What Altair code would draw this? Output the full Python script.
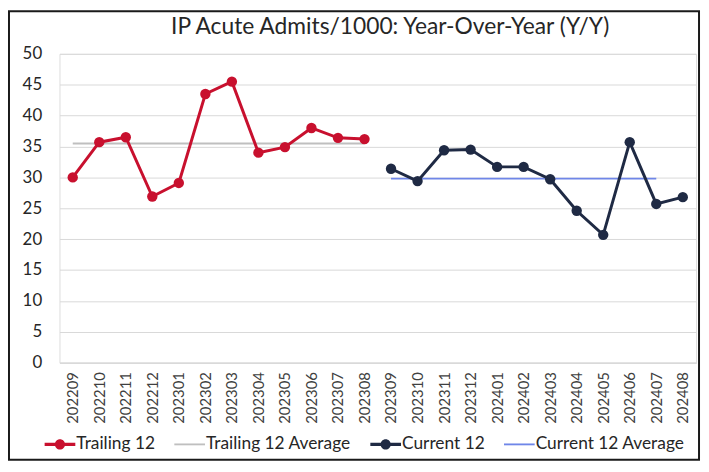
import altair as alt
import pandas as pd

title_text = "IP Acute Admits/1000: Year-Over-Year (Y/Y)"
months = ["202209", "202210", "202211", "202212", "202301", "202302", "202303", "202304",
          "202305", "202306", "202307", "202308", "202309", "202310", "202311", "202312",
          "202401", "202402", "202403", "202404", "202405", "202406", "202407", "202408"]
trailing_months = months[:12]
current_months = months[12:]
trailing = [30.0, 35.7, 36.5, 26.9, 29.1, 43.5, 45.5, 34.0, 34.9, 38.0, 36.4, 36.2]
current = [31.4, 29.4, 34.4, 34.5, 31.7, 31.7, 29.7, 24.6, 20.7, 35.7, 25.7, 26.8]
trailing_avg = 35.5
current_avg = 29.8
current_avg_months = months[12:23]

series_names = ["Trailing 12", "Trailing 12 Average", "Current 12", "Current 12 Average"]
series_colors = ["#C8102E", "#BFBFBF", "#1F2A44", "#6F86E8"]
marker_series = ["Trailing 12", "Current 12"]
average_series = ["Trailing 12 Average", "Current 12 Average"]

rows = []
for m, v in zip(trailing_months, trailing):
    rows.append({"month": m, "value": v, "series": "Trailing 12"})
for m in trailing_months:
    rows.append({"month": m, "value": trailing_avg, "series": "Trailing 12 Average"})
for m, v in zip(current_months, current):
    rows.append({"month": m, "value": v, "series": "Current 12"})
for m in current_avg_months:
    rows.append({"month": m, "value": current_avg, "series": "Current 12 Average"})
df = pd.DataFrame(rows)

FONT = "Lato"

marker_path = ("M-1,-0.1L1,-0.1L1,0.1L-1,0.1Z "
               "M0.33,0A0.33,0.33 0 1,1 -0.33,0A0.33,0.33 0 1,1 0.33,0Z")
line_path = "M-1,-0.06L1,-0.06L1,0.06L-1,0.06Z"
legend_shapes = [marker_path, line_path, marker_path, line_path]

legend = alt.Legend(
    orient="none", direction="horizontal", title=None,
    legendX=-15, legendY=379, padding=0,
    symbolSize=961, columnPadding=19, labelOffset=1,
    labelFont=FONT, labelFontSize=17.5, labelColor="#262626", labelLimit=300,
    symbolOpacity=1, symbolStrokeWidth=0,
)

x_enc = alt.X("month:O", scale=alt.Scale(type="point", domain=months, padding=0.5),
              axis=alt.Axis(title=None, labelAngle=270, labelFont=FONT, labelFontSize=15,
                            labelColor="#404040", tickSize=0, labelPadding=9,
                            domainColor="#D9D9D9", domainWidth=1.5, grid=False))
y_enc = alt.Y("value:Q", scale=alt.Scale(domain=[0, 50], nice=False),
              axis=alt.Axis(title=None, values=list(range(0, 55, 5)), tickSize=0,
                            labelPadding=18, labelFont=FONT, labelFontSize=17,
                            labelColor="#262626", domain=False, gridColor="#D9D9D9"))

color_scale = alt.Scale(domain=series_names, range=series_colors)
color_enc = alt.Color("series:N", scale=color_scale, legend=legend)

avg_lines = alt.Chart(df).transform_filter(
    alt.FieldOneOfPredicate(field="series", oneOf=average_series)
).mark_line(strokeWidth=2).encode(
    x=x_enc, y=y_enc, color=color_enc, detail="series:N",
)

main_lines = alt.Chart(df).transform_filter(
    alt.FieldOneOfPredicate(field="series", oneOf=marker_series)
).mark_line(strokeWidth=3).encode(
    x=x_enc, y=y_enc, color=color_enc, detail="series:N",
)

points = alt.Chart(df).transform_filter(
    alt.FieldOneOfPredicate(field="series", oneOf=marker_series)
).mark_point(filled=True, size=110, opacity=1, shape="circle").encode(
    x=x_enc, y=y_enc, color=color_enc,
)

legend_layer = alt.Chart(df).transform_filter("false").mark_point(filled=True, opacity=1).encode(
    x=x_enc, y=y_enc,
    color=color_enc,
    shape=alt.Shape("series:N", scale=alt.Scale(domain=series_names, range=legend_shapes), legend=legend),
)

frame = alt.Chart(pd.DataFrame({"k": [0]})).mark_rect(
    fill=None, stroke="#1A1A1A", strokeWidth=2
).encode(x=alt.value(-51), x2=alt.value(646), y=alt.value(-43), y2=alt.value(410))

title_mark = alt.Chart(pd.DataFrame({"title": [title_text]})).mark_text(
    font=FONT, fontSize=23, color="#262626", align="center", baseline="alphabetic"
).encode(x=alt.value(334), y=alt.value(-20), text="title:N")

chart = alt.layer(avg_lines, main_lines, points, legend_layer, frame, title_mark).properties(
    width=643, height=312,
    autosize=alt.AutoSizeParams(type="none"),
    padding={"left": 52, "top": 44, "right": 5, "bottom": 99},
).configure_view(stroke="#808080", strokeWidth=1.5).configure(background="white")

chart.save("out.html", embed_options={"renderer": "svg", "actions": False})
